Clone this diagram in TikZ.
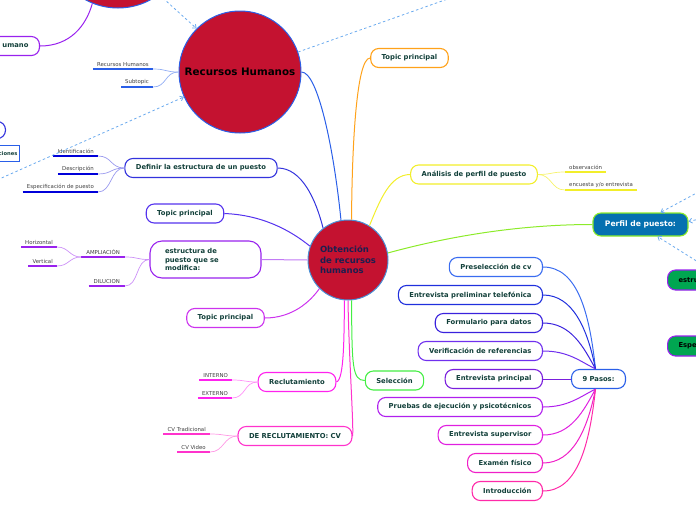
\documentclass[tikz,border=0pt]{standalone}
\usepackage{fontspec}
\setmainfont{DejaVu Sans}
\usetikzlibrary{arrows.meta}

\definecolor{crimson}{HTML}{C41230}
\definecolor{txtgreen}{HTML}{12403A}
\definecolor{navytxt}{HTML}{1C1F50}
\definecolor{leafgray}{HTML}{404040}
\definecolor{rimblue}{HTML}{2A5FE8}
\definecolor{hubrim}{HTML}{4A8FD6}
\definecolor{dashblue}{HTML}{6AAAEE}
\definecolor{orangeln}{HTML}{FFA21A}
\definecolor{yellowln}{HTML}{F2EE2A}
\definecolor{limeln}{HTML}{8CEB2A}
\definecolor{selgreen}{HTML}{44EE44}
\definecolor{defblue}{HTML}{3333DD}
\definecolor{tpviolet}{HTML}{5533EE}
\definecolor{estpurple}{HTML}{9922EE}
\definecolor{tpmagenta}{HTML}{CC33EE}
\definecolor{recpink}{HTML}{FF22EE}
\definecolor{drcpink}{HTML}{FF33CC}
\definecolor{perfilfill}{HTML}{0570B0}
\definecolor{greenfill}{HTML}{00A651}
\definecolor{sA}{HTML}{3A6CF0}
\definecolor{sB}{HTML}{2030DD}
\definecolor{sC}{HTML}{3A22DD}
\definecolor{sD}{HTML}{7030EE}
\definecolor{sE}{HTML}{7A1FDD}
\definecolor{sF}{HTML}{B020EE}
\definecolor{sG}{HTML}{E020E0}
\definecolor{sH}{HTML}{F020C8}
\definecolor{sI}{HTML}{FF2AA8}

\tikzset{
  topic/.style={draw, rounded corners=8pt, line width=1.1pt, fill=white, text=txtgreen,
    font=\bfseries\fontsize{6.8}{8.4}\selectfont, minimum height=19pt, inner xsep=11pt, inner ysep=2pt},
  leaf/.style={font=\fontsize{5.4}{6.5}\selectfont, text=leafgray, inner xsep=4pt, inner ysep=2pt},
  uline/.style={line width=1.6pt},
  link/.style={line width=1pt},
  twig/.style={line width=0.7pt},
  hint/.style={draw=dashblue, line width=0.8pt, dash pattern=on 2.5pt off 2.5pt},
  hinttip/.style={-{Straight Barb[length=3pt,width=5pt]}},
  bubble/.style={circle, draw=rimblue, line width=1pt, fill=crimson, inner sep=0pt},
}

\begin{document}
\begin{tikzpicture}[x=1pt,y=-1pt]
\useasboundingbox (0,0) rectangle (696,520);
\clip (0,0) rectangle (696,520);

% central ideas
\node[bubble, draw=hubrim, minimum size=80, text=navytxt, align=left,
  font=\bfseries\fontsize{8.5}{10.5}\selectfont] (c) at (348,260) {Obtención\\de recursos\\humanos};
\node[bubble, minimum size=122, text=black, font=\bfseries\fontsize{10.3}{12}\selectfont] (rh) at (240,72) {Recursos Humanos};
\node[bubble, minimum size=136] (hub) at (118,-60) {};

% cut off at the left edge
\node[topic, draw=estpurple, anchor=east, text width=60pt, align=right] (umano) at (40,46) {umano};
\node[topic, draw=defblue, anchor=east, minimum width=40pt, minimum height=17pt] (stub) at (6,130) {};
\node[draw=rimblue, line width=1.2pt, fill=white, anchor=east, text width=40pt, align=right, inner sep=2pt,
  minimum height=16pt, text=txtgreen, font=\bfseries\fontsize{5.2}{6}\selectfont] (func) at (20,153.5) {ciones};

% first level topics
\node[topic, draw=orangeln] (tpa) at (409.5,58) {Topic principal};
\node[topic, draw=yellowln] (ana) at (474,174.5) {Análisis de perfil de puesto};
\node[topic, draw=defblue] (def) at (201,168) {Definir la estructura de un puesto};
\node[topic, draw=tpviolet] (tpb) at (185,213.5) {Topic principal};
\node[topic, draw=estpurple, text width=81pt, inner xsep=15pt, minimum height=37pt, align=left, rounded corners=12pt] (est) at (205.5,259.5) {estructura de\\puesto que se\\modifica:};
\node[topic, draw=tpmagenta] (tpc) at (225.5,318) {Topic principal};
\node[topic, draw=recpink] (rec) at (297,382) {Reclutamiento};
\node[topic, draw=drcpink] (drc) at (295,436) {DE RECLUTAMIENTO: CV};
\node[topic, draw=selgreen] (sel) at (394.5,380.5) {Selección};
\node[topic, draw=limeln, fill=perfilfill, text=white, font=\bfseries\fontsize{7.6}{9}\selectfont,
  minimum height=23pt, inner xsep=12pt] (perfil) at (640.5,224.5) {Perfil de puesto:};
\node[topic, draw=estpurple, fill=greenfill, text=black, anchor=west, text width=70pt, align=left,
  inner xsep=11pt, minimum height=20pt] (estru) at (667,280) {estru};
\node[topic, draw=estpurple, fill=greenfill, text=black, anchor=west, text width=70pt, align=left,
  inner xsep=11pt, minimum height=20pt] (espe) at (667,346) {Espe};

% the nine steps
\node[topic, draw=rimblue] (pasos) at (598.5,379) {9 Pasos:};
\node[topic, draw=sA, anchor=east] (s1) at (543,267) {Preselección de cv};
\node[topic, draw=sB, anchor=east] (s2) at (543,295) {Entrevista preliminar telefónica};
\node[topic, draw=sC, anchor=east] (s3) at (543,323) {Formulario para datos};
\node[topic, draw=sD, anchor=east] (s4) at (543,351) {Verificación de referencias};
\node[topic, draw=sE, anchor=east] (s5) at (543,379) {Entrevista principal};
\node[topic, draw=sF, anchor=east] (s6) at (543,407) {Pruebas de ejecución y psicotécnicos};
\node[topic, draw=sG, anchor=east] (s7) at (543,435) {Entrevista supervisor};
\node[topic, draw=sH, anchor=east] (s8) at (543,463) {Examén físico};
\node[topic, draw=sI, anchor=east] (s9) at (543,491) {Introducción};

% subtopics
\node[leaf, anchor=south east] (rh1) at (153,69) {Recursos Humanos};
\node[leaf, anchor=south east] (rh2) at (153,87) {Subtopic};
\node[leaf, anchor=south east] (df1) at (98,156) {Identificación};
\node[leaf, anchor=south east] (df2) at (98,174) {Descripción};
\node[leaf, anchor=south east] (df3) at (98,192) {Especificación de puesto};
\node[leaf, anchor=south east, inner xsep=5pt] (amp) at (125,257) {AMPLIACIÓN};
\node[leaf, anchor=south east, inner xsep=5pt] (dil) at (125,286) {DILUCION};
\node[leaf, anchor=south east] (hor) at (57,247) {Horizontal};
\node[leaf, anchor=south east] (ver) at (57,266) {Vertical};
\node[leaf, anchor=south east] (int) at (232,380) {INTERNO};
\node[leaf, anchor=south east] (ext) at (232,398) {EXTERNO};
\node[leaf, anchor=south east] (cvt) at (210,434) {CV Tradicional};
\node[leaf, anchor=south east] (cvv) at (210,452) {CV Video};
\node[leaf, anchor=south west] (obs) at (565,172) {observación};
\node[leaf, anchor=south west] (enc) at (565,190) {encuesta y/o entrevista};

\draw[uline, rimblue] (rh1.south west) -- (rh1.south east);
\draw[uline, rimblue] (rh2.south west) -- (rh2.south east);
\draw[uline, blue!85!black] (df1.south west) -- (df1.south east);
\draw[uline, blue!85!black] (df2.south west) -- (df2.south east);
\draw[uline, blue!85!black] (df3.south west) -- (df3.south east);
\draw[uline, estpurple] (amp.south west) -- (amp.south east);
\draw[uline, estpurple] (dil.south west) -- (dil.south east);
\draw[uline, estpurple] (hor.south west) -- (hor.south east);
\draw[uline, estpurple] (ver.south west) -- (ver.south east);
\draw[uline, recpink] (int.south west) -- (int.south east);
\draw[uline, recpink] (ext.south west) -- (ext.south east);
\draw[uline, drcpink] (cvt.south west) -- (cvt.south east);
\draw[uline, drcpink] (cvv.south west) -- (cvv.south east);
\draw[uline, yellowln] (obs.south west) -- (obs.south east);
\draw[uline, yellowln] (enc.south west) -- (enc.south east);

% links to the centre
\draw[link, rimblue] (rh.east) .. controls (318,72) and (334,150) .. (c.100);
\draw[link, orangeln] (tpa.west) .. controls (356,58) and (352,150) .. (c.85);
\draw[link, yellowln] (c.58) .. controls (380,200) and (390,174.5) .. (ana.west);
\draw[link, limeln] (c.10) .. controls (450,236) and (520,224.5) .. (perfil.west);
\draw[link, selgreen] (c.-85) .. controls (352,365) and (352,380.5) .. (sel.west);
\draw[link, recpink] (rec.east) .. controls (344,380) and (344,340) .. (c.-95);
\draw[link, drcpink] (drc.east) .. controls (354,430) and (349,360) .. (c.-90);
\draw[link, tpmagenta] (tpc.east) .. controls (292,318) and (310,302) .. (c.-135);
\draw[link, estpurple!60] (est.east) -- (c.west);
\draw[link, tpviolet] (tpb.east) .. controls (262,215) and (290,230) .. (c.160);
\draw[link, defblue] (def.east) .. controls (302,168) and (316,200) .. (c.128);
\draw[link, estpurple] (umano.east) .. controls (70,46) and (86,26) .. (hub.-112);

% twigs
\draw[twig, rimblue!50] (rh.west) .. controls +(-14,0) and +(14,0) .. (rh1.south east);
\draw[twig, rimblue!50] (rh.west) .. controls +(-14,0) and +(14,0) .. (rh2.south east);
\draw[twig, defblue!50] (def.west) .. controls +(-14,0) and +(14,0) .. (df1.south east);
\draw[twig, defblue!50] (def.west) .. controls +(-14,0) and +(14,0) .. (df2.south east);
\draw[twig, defblue!50] (def.west) .. controls +(-14,0) and +(14,0) .. (df3.south east);
\draw[twig, estpurple!50] (est.west) .. controls +(-14,0) and +(14,0) .. (amp.south east);
\draw[twig, estpurple!50] (est.west) .. controls +(-14,0) and +(14,0) .. (dil.south east);
\draw[twig, estpurple!50] (amp.south west) .. controls +(-12,0) and +(12,0) .. (hor.south east);
\draw[twig, estpurple!50] (amp.south west) .. controls +(-12,0) and +(12,0) .. (ver.south east);
\draw[twig, recpink!50] (rec.west) .. controls +(-14,0) and +(14,0) .. (int.south east);
\draw[twig, recpink!50] (rec.west) .. controls +(-14,0) and +(14,0) .. (ext.south east);
\draw[twig, drcpink!50] (drc.west) .. controls +(-14,0) and +(14,0) .. (cvt.south east);
\draw[twig, drcpink!50] (drc.west) .. controls +(-14,0) and +(14,0) .. (cvv.south east);
\draw[twig, yellowln!70] (ana.east) .. controls +(14,0) and +(-14,0) .. (obs.south west);
\draw[twig, yellowln!70] (ana.east) .. controls +(14,0) and +(-14,0) .. (enc.south west);

% steps into 9 Pasos
\draw[link, sA] (s1.east) .. controls +(35,0) and +(-6,-55) .. ([xshift=-3]pasos.north);
\draw[link, sB] (s2.east) .. controls +(30,0) and +(-8,-40) .. ([xshift=-3]pasos.north);
\draw[link, sC] (s3.east) .. controls +(28,0) and +(-12,-22) .. ([xshift=-3]pasos.north);
\draw[link, sD] (s4.east) .. controls +(25,0) and +(-16,-8) .. ([xshift=-3]pasos.north);
\draw[link, sE] (s5.east) -- (pasos.west);
\draw[link, sF] (s6.east) .. controls +(25,0) and +(-16,8) .. ([xshift=-3]pasos.south);
\draw[link, sG] (s7.east) .. controls +(28,0) and +(-12,22) .. ([xshift=-3]pasos.south);
\draw[link, sH] (s8.east) .. controls +(30,0) and +(-8,40) .. ([xshift=-3]pasos.south);
\draw[link, sI] (s9.east) .. controls +(35,0) and +(-6,55) .. ([xshift=-3]pasos.south);

% dashed relations
\coordinate (farA) at (600,-55);
\coordinate (farB) at (-12,184);
\coordinate (farC) at (730,175);
\coordinate (farD) at (730,212);
\coordinate (farE) at (730,282);
\draw[hint, hinttip] (hub.-53) -- (rh.135);
\draw[hint] (rh.19) -- (farA);
\draw[hint, hinttip] (farB) -- (rh.204);
\draw[hint, hinttip] (farC) -- ([xshift=20]perfil.north);
\draw[hint, hinttip] (farD) -- ([yshift=3]perfil.east);
\draw[hint, hinttip] (farE) -- ([xshift=17]perfil.south);
\end{tikzpicture}
\end{document}
